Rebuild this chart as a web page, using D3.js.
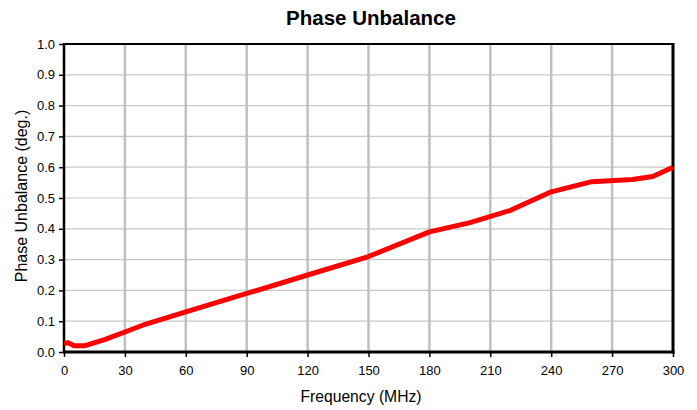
<!DOCTYPE html>
<html><head><meta charset="utf-8">
<script src="https://cdn.jsdelivr.net/npm/d3@7"></script>
<style>body{margin:0;background:#fff}svg{display:block}text{font-family:"Liberation Sans",Arial,sans-serif}</style>
</head><body><svg id="c" width="697" height="410"></svg>
<script>
const freq = [0, 2, 5, 10, 20, 30, 40, 60, 90, 120, 150, 180, 200, 220, 240, 260, 280, 290, 300];
const unbalance = [0.028, 0.03, 0.02, 0.02, 0.04, 0.065, 0.09, 0.13, 0.19, 0.25, 0.31, 0.39, 0.42, 0.46, 0.52, 0.553, 0.56, 0.57, 0.60];
const xTicks = [0, 30, 60, 90, 120, 150, 180, 210, 240, 270, 300];
const yTicks = [0, 0.1, 0.2, 0.3, 0.4, 0.5, 0.6, 0.7, 0.8, 0.9, 1.0];

const svg = d3.select("#c");
const L = 64, R = 673, T = 44, B = 352;
const x = d3.scaleLinear().domain([0, 300]).range([L, R]);
const y = d3.scaleLinear().domain([0, 1]).range([B, T]);

// horizontal grid
svg.append("g").selectAll("line").data(yTicks.slice(1)).join("line")
  .attr("x1", L).attr("x2", R).attr("y1", d => y(d)).attr("y2", d => y(d))
  .attr("stroke", "#c8c8c8").attr("stroke-width", 1.2);
// vertical grid
svg.append("g").selectAll("line").data(xTicks.slice(1, -1)).join("line")
  .attr("y1", T).attr("y2", B).attr("x1", d => x(d)).attr("x2", d => x(d))
  .attr("stroke", "#c0c0c0").attr("stroke-width", 2.5);

// axes
const ya = svg.append("g").attr("transform", `translate(${L},0)`)
  .call(d3.axisLeft(y).tickValues(yTicks).tickFormat(d3.format(".1f")).tickSize(5).tickPadding(4));
const xa = svg.append("g").attr("transform", `translate(0,${B})`)
  .call(d3.axisBottom(x).tickValues(xTicks).tickSize(5).tickPadding(9));
[ya, xa].forEach(a => {
  a.select(".domain").remove();
  a.selectAll("line").attr("stroke", "#000").attr("stroke-width", 1.5);
  a.selectAll("text").attr("font-size", 13).attr("fill", "#000").attr("font-family", '"Liberation Sans",Arial,sans-serif');
});

// frame
svg.append("line").attr("x1", L).attr("x2", R).attr("y1", T).attr("y2", T).attr("stroke", "#000").attr("stroke-width", 2);
svg.append("line").attr("x1", L).attr("x2", L).attr("y1", T - 1).attr("y2", B + 1.5).attr("stroke", "#000").attr("stroke-width", 2.5);
svg.append("line").attr("x1", R).attr("x2", R).attr("y1", T - 1).attr("y2", B + 1.5).attr("stroke", "#000").attr("stroke-width", 3);
svg.append("line").attr("x1", L).attr("x2", R + 1.5).attr("y1", B).attr("y2", B).attr("stroke", "#000").attr("stroke-width", 3);

// line
const line = d3.line().x((d, i) => x(freq[i])).y(d => y(d));
svg.append("path").datum(unbalance).attr("d", line)
  .attr("fill", "none").attr("stroke", "#ff0000").attr("stroke-width", 5).attr("stroke-linejoin", "round");

// titles
svg.append("text").attr("x", 371).attr("y", 25).attr("text-anchor", "middle")
  .attr("font-size", 20.5).attr("font-weight", "bold").text("Phase Unbalance");
svg.append("text").attr("x", 361).attr("y", 402).attr("text-anchor", "middle")
  .attr("font-size", 15.7).text("Frequency (MHz)");
svg.append("text").attr("transform", "translate(27,196) rotate(-90)").attr("text-anchor", "middle")
  .attr("font-size", 16).text("Phase Unbalance (deg.)");
</script></body></html>
